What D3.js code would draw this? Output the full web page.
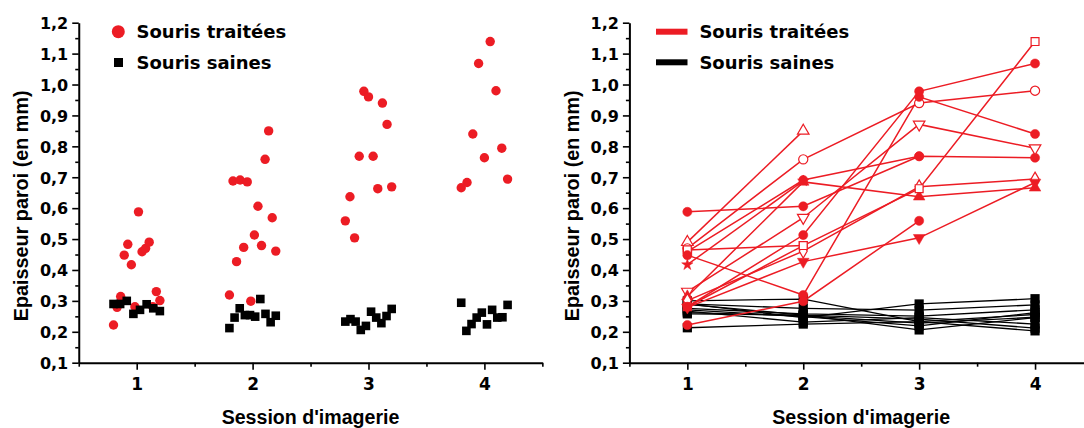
<!DOCTYPE html>
<html><head><meta charset="utf-8">
<script src="https://cdn.jsdelivr.net/npm/d3@7/dist/d3.min.js"></script>
<style>body{margin:0;background:#fff}svg{display:block}</style>
</head><body>
<svg id="chart" width="1084" height="428"></svg>
<script>
// ---------------- DATA ----------------
const sessions = [1, 2, 3, 4];
const xTickLabels = ["1", "2", "3", "4"];
const yTickValues = [0.1, 0.2, 0.3, 0.4, 0.5, 0.6, 0.7, 0.8, 0.9, 1.0, 1.1, 1.2];
const legendLabels = ["Souris traitées", "Souris saines"];
const yTitle = "Epaisseur paroi (en mm)";
const xTitle = "Session d'imagerie";

// Left panel: column scatter, values in plotted order per session
const treatedS1 = [0.222, 0.279, 0.314, 0.448, 0.483, 0.417, 0.281, 0.588, 0.459, 0.470, 0.490, 0.281, 0.330, 0.301];
const treatedS2 = [0.319, 0.688, 0.427, 0.691, 0.473, 0.685, 0.299, 0.513, 0.606, 0.479, 0.758, 0.850, 0.569, 0.461];
const treatedS3 = [0.559, 0.637, 0.504, 0.768, 0.978, 0.960, 0.768, 0.663, 0.940, 0.871, 0.669];
const treatedS4 = [0.666, 0.683, 0.840, 1.068, 0.763, 1.139, 0.980, 0.794, 0.694];
const healthyS1 = [0.290, 0.290, 0.300, 0.258, 0.271, 0.289, 0.276, 0.267];
const healthyS2 = [0.212, 0.246, 0.276, 0.254, 0.254, 0.249, 0.306, 0.258, 0.231, 0.252];
const healthyS3 = [0.233, 0.241, 0.233, 0.206, 0.219, 0.265, 0.246, 0.228, 0.251, 0.274];
const healthyS4 = [0.294, 0.203, 0.225, 0.246, 0.262, 0.224, 0.271, 0.246, 0.247, 0.287];

// Right panel: one entry per mouse, per session (null = no measurement)
const treatedLineS1 = [0.588, 0.490, 0.470, 0.459, 0.465, 0.448, 0.417, 0.330, 0.314, 0.301, 0.281, 0.281, 0.279, 0.222];
const treatedLineS2 = [0.606, 0.850, 0.758, 0.691, 0.479, 0.319, 0.688, 0.569, 0.685, 0.461, 0.479, 0.513, 0.427, 0.299];
const treatedLineS3 = [0.768, null, 0.940, 0.768, null, 0.960, null, 0.871, 0.637, 0.669, 0.663, 0.978, 0.504, 0.559];
const treatedLineS4 = [null, null, 0.980, 0.763, null, 0.840, null, 0.794, 0.666, 0.694, 1.139, 1.068, 0.683, null];
const healthyLineS1 = [0.300, 0.290, 0.290, 0.289, 0.276, 0.271, 0.267, 0.262, 0.258, 0.213];
const healthyLineS2 = [0.306, 0.246, 0.276, 0.254, 0.258, 0.249, 0.231, 0.252, 0.254, 0.225];
const healthyLineS3 = [0.233, 0.290, 0.270, 0.206, 0.251, 0.219, 0.246, 0.228, 0.241, 0.233];
const healthyLineS4 = [0.203, 0.307, 0.287, 0.246, 0.271, 0.262, 0.225, 0.247, 0.212, 0.256];

// ---------------- STYLE ----------------
const RED = "#ec1c24";
const BLACK = "#000";
const TICK_FONT = "'DejaVu Sans', sans-serif";
const TITLE_FONT = "'Liberation Sans', Arial, sans-serif";
const markerTypes = ["circle", "triangle-open", "circle-open", "circle", "square-open", "circle",
  "star", "tridown-open", "triangle", "diamond-open", "square-open", "circle", "tridown", "circle"];

const svg = d3.select("#chart");
const yRange = [362.7, 22.7];

function makePanel(x0) {
  const x = d3.scaleLinear().domain([0.5, 4.5]).range([x0, x0 + 463.6]);
  const y = d3.scaleLinear().domain([0.1, 1.2]).range(yRange);
  return {x, y};
}

function drawAxes(p, axisX) {
  const g = svg.append("g");
  const fmt = d => d3.format(".1f")(d).replace(".", ",");
  const yMinor = d3.range(0.15, 1.2, 0.1);
  g.append("g").attr("transform", `translate(${axisX},0)`)
    .call(d3.axisLeft(p.y).tickValues(yMinor).tickSize(3.5).tickFormat("").tickSizeOuter(0))
    .call(s => s.select(".domain").remove())
    .call(s => s.selectAll("line").attr("stroke-width", 1.6));
  const xMinor = [0.5, 1.5, 2.5, 3.5, 4.5];
  g.append("g").attr("transform", `translate(0,${yRange[0]})`)
    .call(d3.axisBottom(p.x).tickValues(xMinor).tickSize(4).tickFormat("").tickSizeOuter(0))
    .call(s => s.select(".domain").remove())
    .call(s => s.selectAll("line").attr("stroke-width", 1.6));
  const ya = g.append("g").attr("transform", `translate(${axisX},0)`)
    .call(d3.axisLeft(p.y).tickValues(yTickValues).tickSize(6.5).tickPadding(4).tickFormat(fmt).tickSizeOuter(0));
  ya.selectAll("text").attr("font-family", TICK_FONT).attr("font-weight", "bold")
    .attr("font-size", 16).attr("fill", BLACK).attr("dy", "0.36em");
  const xa = g.append("g").attr("transform", `translate(0,${yRange[0]})`)
    .call(d3.axisBottom(p.x).tickValues(sessions).tickSize(7).tickPadding(8)
      .tickFormat((d, i) => xTickLabels[i]).tickSizeOuter(0));
  xa.selectAll("text").attr("font-family", TICK_FONT).attr("font-weight", "bold")
    .attr("font-size", 17).attr("fill", BLACK);
  [ya, xa].forEach(a => {
    a.select(".domain").attr("stroke-width", 2).attr("stroke", BLACK);
    a.selectAll(".tick line").attr("stroke-width", 1.6).attr("stroke", BLACK);
  });
  const xm = (p.x.range()[0] + p.x.range()[1]) / 2;
  svg.append("text").attr("x", xm).attr("y", 423.5).attr("text-anchor", "middle")
    .attr("font-family", TITLE_FONT).attr("font-weight", "bold").attr("font-size", 19.6)
    .text(xTitle);
  svg.append("text").attr("transform", `translate(${axisX - 50.5},205.8) rotate(-90)`)
    .attr("text-anchor", "middle")
    .attr("font-family", TITLE_FONT).attr("font-weight", "bold").attr("font-size", 19.8)
    .text(yTitle);
}

// ---------- Left panel ----------
const L = makePanel(78.75);
drawAxes(L, 78.75);
const jitter = (n, i) => -0.2 + 0.4 * i / (n - 1);
const healthyCols = [healthyS1, healthyS2, healthyS3, healthyS4];
const treatedCols = [treatedS1, treatedS2, treatedS3, treatedS4];
const leftG = svg.append("g");
treatedCols.forEach((col, si) => {
  leftG.selectAll(null).data(col).enter().append("circle")
    .attr("cx", (d, i) => L.x(sessions[si] + jitter(col.length, i)))
    .attr("cy", d => L.y(d)).attr("r", 4.7).attr("fill", RED);
});
healthyCols.forEach((col, si) => {
  leftG.selectAll(null).data(col).enter().append("rect")
    .attr("x", (d, i) => L.x(sessions[si] + jitter(col.length, i)) - 4.3)
    .attr("y", d => L.y(d) - 4.3).attr("width", 8.6).attr("height", 8.6).attr("fill", BLACK);
});
svg.append("circle").attr("cx", 118.3).attr("cy", 31.7).attr("r", 6.5).attr("fill", RED);
svg.append("rect").attr("x", 114).attr("y", 58).attr("width", 9).attr("height", 9).attr("fill", BLACK);
legendLabels.forEach((t, i) => {
  svg.append("text").attr("x", 136.5).attr("y", 38.3 + i * 30.6)
    .attr("font-family", TICK_FONT).attr("font-weight", "bold").attr("font-size", 18).text(t);
});

// ---------- Right panel ----------
const R = makePanel(629.4);
drawAxes(R, 629.4);
const rightG = svg.append("g");
const hLines = [healthyLineS1, healthyLineS2, healthyLineS3, healthyLineS4];
const tLines = [treatedLineS1, treatedLineS2, treatedLineS3, treatedLineS4];
const line = d3.line().defined(d => d.v != null).x(d => R.x(d.s)).y(d => R.y(d.v));

const hSeries = healthyLineS1.map((_, m) => sessions.map((s, si) => ({s, v: hLines[si][m]})));
const tSeries = treatedLineS1.map((_, m) => sessions.map((s, si) => ({s, v: tLines[si][m]})));

rightG.selectAll(null).data(hSeries).enter().append("path")
  .attr("d", line).attr("fill", "none").attr("stroke", BLACK).attr("stroke-width", 1.3);
hSeries.forEach(ser => {
  rightG.selectAll(null).data(ser.filter(d => d.v != null)).enter().append("rect")
    .attr("x", d => R.x(d.s) - 4.6).attr("y", d => R.y(d.v) - 4.6)
    .attr("width", 9.2).attr("height", 9.2).attr("fill", BLACK);
});
rightG.selectAll(null).data(tSeries).enter().append("path")
  .attr("d", line).attr("fill", "none").attr("stroke", RED).attr("stroke-width", 1.5);

const symMap = {circle: d3.symbolCircle, triangle: d3.symbolTriangle, tridown: d3.symbolTriangle,
  square: d3.symbolSquare, diamond: d3.symbolDiamond, star: d3.symbolStar};
const symSize = {circle: 66, triangle: 58, tridown: 58, square: 62, diamond: 56, star: 40};
tSeries.forEach((ser, m) => {
  const t = markerTypes[m];
  const open = t.endsWith("-open");
  const base = t.replace("-open", "");
  const rot = base === "tridown" ? 180 : 0;
  rightG.selectAll(null).data(ser.filter(d => d.v != null)).enter().append("path")
    .attr("d", d3.symbol().type(symMap[base]).size(symSize[base]))
    .attr("transform", d => `translate(${R.x(d.s)},${R.y(d.v)}) rotate(${rot})`)
    .attr("fill", open ? "#fff" : RED).attr("stroke", RED).attr("stroke-width", open ? 1.2 : 0.5);
});
svg.append("line").attr("x1", 656).attr("x2", 687.5).attr("y1", 31.7).attr("y2", 31.7)
  .attr("stroke", RED).attr("stroke-width", 6);
svg.append("line").attr("x1", 656).attr("x2", 687.5).attr("y1", 62.3).attr("y2", 62.3)
  .attr("stroke", BLACK).attr("stroke-width", 6);
legendLabels.forEach((t, i) => {
  svg.append("text").attr("x", 699.4).attr("y", 38.3 + i * 30.6)
    .attr("font-family", TICK_FONT).attr("font-weight", "bold").attr("font-size", 18).text(t);
});
</script>
</body></html>
